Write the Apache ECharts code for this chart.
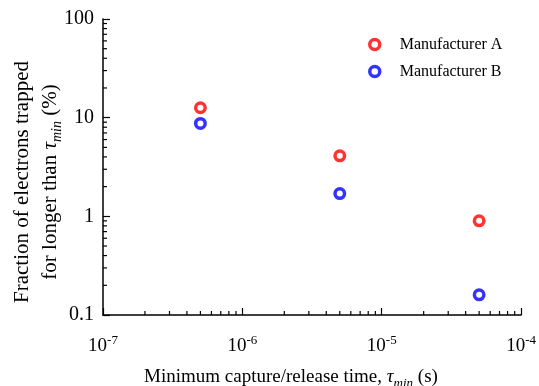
<!DOCTYPE html>
<html>
<head>
<meta charset="utf-8">
<script src="https://cdn.jsdelivr.net/npm/echarts@6/dist/echarts.min.js"></script>
<style>html,body{margin:0;padding:0;background:#fff;}#c{width:539px;height:386px;}</style>
</head>
<body>
<div id="c"></div>
<script>
const tauValues = [5e-7, 5e-6, 5e-5];
const manufacturerA = [12.6, 4.1, 0.9];
const manufacturerB = [8.75, 1.7, 0.16];
const seriesNames = ['Manufacturer A', 'Manufacturer B'];
const xMin = 1e-7, xMax = 1e-4, yMin = 0.1, yMax = 100;
const minorMultipliers = [2, 3, 4, 5, 6, 7, 8, 9];
const xDecades = [1e-7, 1e-6, 1e-5];
const yDecades = [0.1, 1, 10];

const FONT = '"Liberation Serif", "Times New Roman", serif';
const xMinorData = [];
xDecades.forEach(d => minorMultipliers.forEach(m => xMinorData.push([d * m, yMin, 'x'])));
const yMinorData = [];
yDecades.forEach(d => minorMultipliers.forEach(m => yMinorData.push([xMin, d * m, 'y'])));

const chart = echarts.init(document.getElementById('c'), null, {renderer: 'canvas'});
const ringStyle = (c) => ({color: 'rgba(255,255,255,0)', borderColor: c, borderWidth: 3.5});

chart.setOption({
  animation: false,
  backgroundColor: '#fff',
  grid: {left: 103, right: 16, top: 19, bottom: 71},
  legend: {
    data: seriesNames,
    orient: 'vertical',
    left: 363, top: 31, padding: 5,
    itemWidth: 10, itemHeight: 10, itemGap: 10,
    itemStyle: {borderWidth: 3.5},
    textStyle: {fontFamily: FONT, fontSize: 16, color: '#000', padding: [0, 0, 0, 15], lineHeight: 17}
  },
  xAxis: {
    type: 'log', logBase: 10, min: xMin, max: xMax,
    axisLine: {show: true, onZero: false, lineStyle: {color: '#000', width: 1.5}},
    axisTick: {show: true, inside: true, length: 7, lineStyle: {color: '#000', width: 1.2}},
    splitLine: {show: false},
    axisLabel: {
      margin: 19,
      formatter: v => '{b|10}{s|' + Math.round(Math.log10(v)) + '}',
      rich: {
        b: {fontFamily: FONT, fontSize: 19, color: '#000', lineHeight: 22, verticalAlign: 'bottom'},
        s: {fontFamily: FONT, fontSize: 13, color: '#000', lineHeight: 13, verticalAlign: 'top'}
      }
    }
  },
  yAxis: {
    type: 'log', logBase: 10, min: yMin, max: yMax,
    axisLine: {show: true, onZero: false, lineStyle: {color: '#000', width: 1.5}},
    axisTick: {show: true, inside: true, length: 7, lineStyle: {color: '#000', width: 1.2}},
    splitLine: {show: false},
    axisLabel: {margin: 9, fontFamily: FONT, fontSize: 20, color: '#000'}
  },
  graphic: [
    {
      type: 'text', x: 291, y: 377,
      style: {
        text: 'Minimum capture/release time, {i|τ}{sub|min} (s)',
        fontFamily: FONT, fontSize: 19, fill: '#000', align: 'center', verticalAlign: 'middle',
        rich: {
          i: {fontFamily: FONT, fontSize: 19, fontStyle: 'italic', fill: '#000', lineHeight: 26, verticalAlign: 'middle'},
          sub: {fontFamily: FONT, fontSize: 13, fontStyle: 'italic', fill: '#000', lineHeight: 13, verticalAlign: 'bottom'}
        }
      }
    },
    {
      type: 'text', x: 36, y: 182, rotation: Math.PI / 2,
      style: {
        text: 'Fraction of electrons trapped\nfor longer than {i|τ}{sub|min} (%)',
        fontFamily: FONT, fontSize: 21, fill: '#000', align: 'center', verticalAlign: 'middle', lineHeight: 28,
        rich: {
          i: {fontFamily: FONT, fontSize: 21, fontStyle: 'italic', fill: '#000', lineHeight: 28, verticalAlign: 'middle'},
          sub: {fontFamily: FONT, fontSize: 14, fontStyle: 'italic', fill: '#000', lineHeight: 14, verticalAlign: 'bottom'}
        }
      }
    }
  ],
  series: [
    {
      name: seriesNames[0], type: 'scatter', symbol: 'circle', symbolSize: 9.5,
      itemStyle: ringStyle('#ff0000'),
      data: tauValues.map((t, i) => [t, manufacturerA[i]]), z: 5
    },
    {
      name: seriesNames[1], type: 'scatter', symbol: 'circle', symbolSize: 9.5,
      itemStyle: ringStyle('#0000ff'),
      data: tauValues.map((t, i) => [t, manufacturerB[i]]), z: 5
    },
    {
      name: 'minorTicks', type: 'custom', silent: true, z: 3,
      data: xMinorData.concat(yMinorData),
      renderItem: function (params, api) {
        const p = api.coord([api.value(0), api.value(1)]);
        const isX = api.value(2) === 'x';
        const len = 4;
        return {
          type: 'line',
          shape: isX ? {x1: p[0], y1: p[1], x2: p[0], y2: p[1] - len} : {x1: p[0], y1: p[1], x2: p[0] + len, y2: p[1]},
          style: {stroke: '#000', lineWidth: 1.2}
        };
      }
    }
  ]
});
</script>
</body>
</html>
